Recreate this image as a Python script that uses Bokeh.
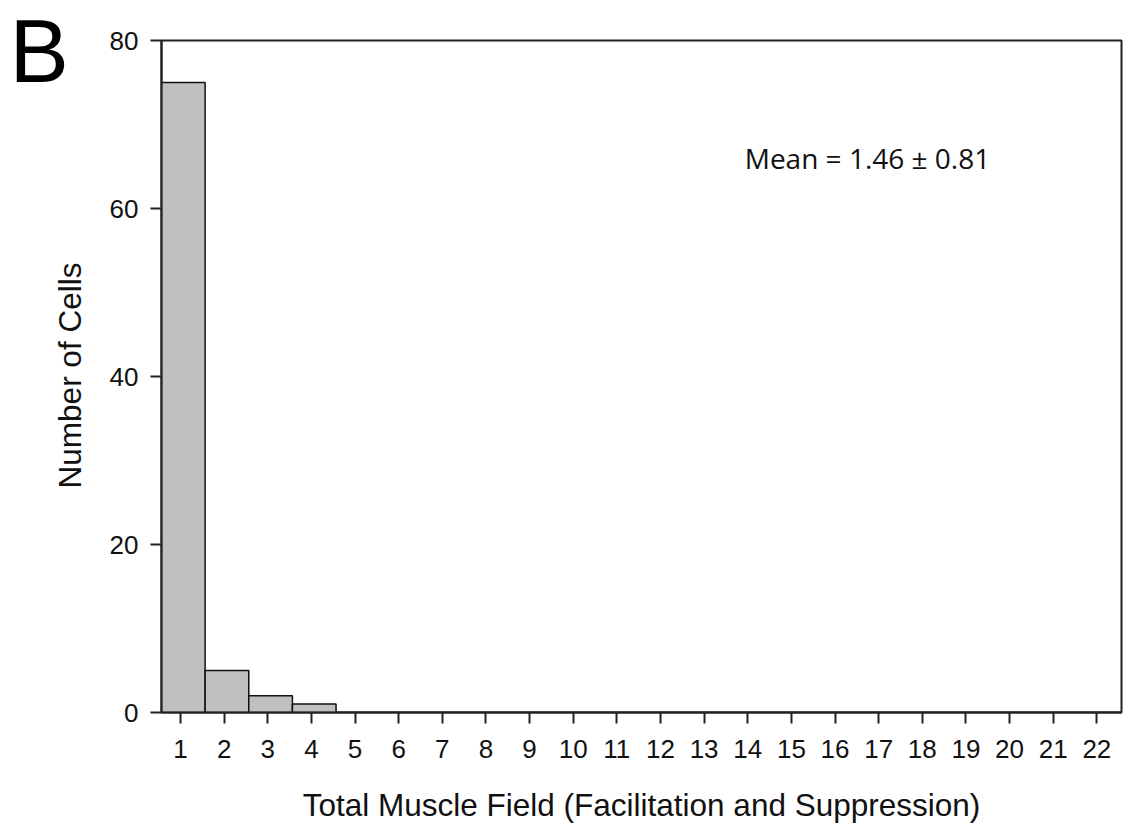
import numpy as np
from bokeh.plotting import figure
from bokeh.layouts import row
from bokeh.models import FixedTicker, Label, Range1d, ColumnDataSource
from bokeh.core.properties import value
from bokeh.embed import file_html
from bokeh.resources import INLINE

# Data
categories = list(range(1, 23))
counts = [75, 5, 2, 1] + [0] * 18
y_ticks = [0, 20, 40, 60, 80]
x_label = "Total Muscle Field (Facilitation and Suppression)"
y_label = "Number of Cells"
mean_text = "Mean = 1.46 \u00b1 0.81"
panel_letter = "B"

LEFT_W = 100  # width of the side panel that holds the panel letter and y-axis title

bin_shift = 0.065  # histogram bins are slightly offset from tick positions
left = [c - 0.5 + bin_shift for c in categories]
right = [c + 0.5 + bin_shift for c in categories]
src = ColumnDataSource(dict(left=left, right=right, top=counts, bottom=[0] * len(counts)))

p = figure(width=1127 - LEFT_W, height=836, output_backend="svg", toolbar_location=None,
           x_range=Range1d(0.5 + bin_shift, 22.5 + bin_shift), y_range=Range1d(0, 80),
           min_border_left=161 - LEFT_W, min_border_right=6, min_border_top=40,
           min_border_bottom=124)

p.quad(left="left", right="right", top="top", bottom="bottom", source=src,
       fill_color="#c0c0c0", line_color="#111111", line_width=1.5)

p.xgrid.visible = False
p.ygrid.visible = False
p.outline_line_color = "#222222"
p.outline_line_width = 2
p.background_fill_color = "white"
p.border_fill_color = "white"

FONT = "Liberation Sans"
for ax in (p.xaxis[0], p.yaxis[0]):
    ax.axis_line_color = "#222222"
    ax.axis_line_width = 2
    ax.major_tick_line_color = "#222222"
    ax.major_tick_line_width = 2
    ax.major_tick_in = 0
    ax.major_tick_out = 11
    ax.minor_tick_line_color = None
    ax.major_label_text_font = FONT
    ax.major_label_text_font_size = "26px"
    ax.major_label_text_color = "#111111"
    ax.axis_label_text_font = FONT
    ax.axis_label_text_font_size = "31.5px"
    ax.axis_label_text_font_style = "normal"
    ax.axis_label_text_color = "#111111"

p.xaxis[0].major_label_standoff = 16
p.yaxis[0].major_label_standoff = 12
p.xaxis[0].ticker = FixedTicker(ticks=categories)
p.yaxis[0].ticker = FixedTicker(ticks=y_ticks)
p.xaxis[0].axis_label = x_label
p.xaxis[0].axis_label_standoff = 26

p.add_layout(Label(x=13.93, y=66.0, text=mean_text, text_font="Open Sans",
                   text_font_size="28px", text_color="#111111", text_baseline="alphabetic"))

# Side panel (pixel coordinates, y measured from the top)
side = figure(width=LEFT_W, height=836, output_backend="svg", toolbar_location=None,
              x_range=Range1d(0, LEFT_W), y_range=Range1d(836, 0),
              min_border=0, min_border_left=0, min_border_right=0,
              min_border_top=0, min_border_bottom=0)
try:
    side.frame_align = False
except Exception:
    pass
side.axis.visible = False
side.grid.visible = False
side.outline_line_color = None
side.background_fill_color = "white"
side.border_fill_color = "white"

side.text(x=[9], y=[50.2], text=[panel_letter], text_font=value(FONT),
          text_font_size="89px", text_color="#000000", text_baseline="alphabetic",
          text_align="left")
side.text(x=[69], y=[375], text=[y_label], text_font=value(FONT),
          text_font_size="31.5px", text_color="#111111", text_baseline="middle",
          text_align="center", angle=np.pi / 2)

layout = row(side, p, spacing=0)
open("out.html", "w").write(file_html(layout, INLINE))
